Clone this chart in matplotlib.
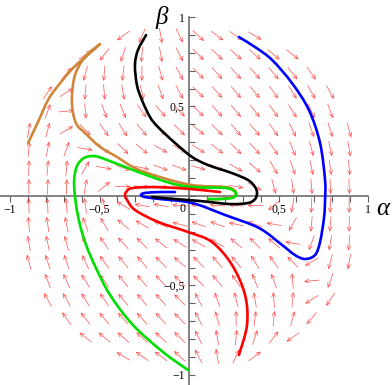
import matplotlib
matplotlib.use("Agg")
import matplotlib.pyplot as plt
from matplotlib.path import Path
from matplotlib.patches import PathPatch
import numpy as np

# ---------------- data ----------------
# direction field: grid values -1 + 2k/19 (k = 0..19); each row: (row index m, first column k, angles in degrees)
field_rows = [18, 17, 16, 15, 14, 13, 12, 11, 10, 9, 8, 7, 6, 5, 4, 3, 2, 1]
field_first = [6, 4, 3, 2, 2, 1, 1, 1, 1, 1, 1, 1, 1, 2, 2, 3, 4, 6]
field_angles = [
    [-143, -115, -80, -63, -43, -37, -35, -31],
    [35, -128, -108, -95, -80, -63, -45, -43, -42, -42, -40, -38],
    [50, -105, -95, -97, -90, -75, -62, -45, -48, -48, -48, -50, -52, -55],
    [56, 33, -95, -85, -80, -75, -70, -62, -45, -48, -50, -50, -55, -58, -60, -60],
    [70, 5, -85, -70, -68, -55, -50, -45, -45, -48, -50, -52, -55, -58, -65, -70],
    [80, 75, 30, -45, -55, -58, -50, -48, -45, -40, -45, -50, -50, -55, -65, -70, -72, -75],
    [85, 80, 70, -10, -40, -45, -40, -30, -30, -32, -38, -45, -48, -55, -68, -75, -78, -80],
    [88, 85, 85, 60, -10, -20, -12, -20, -20, -15, -25, -30, -40, -60, -70, -78, -82, -85],
    [90, 88, 88, 80, 40, 0, -5, -5, -5, -5, -10, -10, -30, -75, -82, -85, -88, -88],
    [92, 92, 95, 98, 105, 150, 170, 170, 175, 175, 175, 175, 180, 220, 260, 268, 268, 270],
    [95, 98, 102, 110, 120, 140, 150, 155, 165, 160, 160, 168, 160, 170, 240, 265, 265, 268],
    [100, 102, 105, 112, 125, 132, 135, 142, 148, 150, 150, 140, 135, 140, 170, 250, 260, 265],
    [105, 108, 110, 115, 125, 130, 130, 135, 140, 135, 132, 130, 122, 125, 135, 210, 255, 260],
    [110, 115, 122, 125, 128, 130, 132, 135, 135, 130, 125, 112, 110, 95, 185, 250],
    [120, 120, 122, 125, 130, 130, 132, 135, 118, 110, 105, 100, 95, 85, 213, 236],
    [125, 128, 130, 132, 132, 132, 135, 118, 105, 90, 83, 85, 75, 230],
    [142, 140, 138, 138, 137, 135, 117, 100, 85, 72, 52, 215],
    [149, 145, 143, 137, 117, 100, 65, 37],
]

blue_a = [0.279, 0.369, 0.464, 0.575, 0.670, 0.732, 0.760, 0.760, 0.754, 0.732, 0.704, 0.648,
          0.592, 0.520, 0.391, 0.201, 0.017, -0.162, -0.246, -0.268, -0.246, -0.162, -0.078]
blue_b = [0.888, 0.832, 0.760, 0.631, 0.480, 0.296, 0.089, -0.022, -0.123, -0.257, -0.330, -0.352,
          -0.330, -0.274, -0.179, -0.106, -0.039, -0.017, -0.006, 0.006, 0.017, 0.022, 0.022]

red_a = [0.279, 0.324, 0.313, 0.240, 0.128, -0.006, -0.173, -0.302, -0.346, -0.358, -0.341,
         -0.313, -0.218, -0.078, 0.061, 0.173]
red_b = [-0.888, -0.721, -0.553, -0.385, -0.257, -0.201, -0.145, -0.078, -0.022, 0.006, 0.034,
         0.045, 0.050, 0.045, 0.034, 0.022]

green_a = [-0.006, -0.145, -0.313, -0.441, -0.520, -0.575, -0.609, -0.631, -0.642, -0.637, -0.620,
           -0.587, -0.542, -0.486, -0.313, -0.123, 0.017, 0.201, 0.251, 0.263, 0.240, 0.173, 0.106]
green_b = [-0.972, -0.872, -0.721, -0.553, -0.402, -0.274, -0.162, -0.050, 0.061, 0.128, 0.179,
           0.212, 0.223, 0.212, 0.145, 0.078, 0.050, 0.045, 0.028, 0.006, -0.011, -0.017, -0.017]

orange_a = [-0.899, -0.844, -0.788, -0.737, -0.648, -0.553, -0.497, -0.581, -0.637, -0.654, -0.648,
            -0.626, -0.581, -0.497, -0.402, -0.302, -0.162, 0.017, 0.201, 0.251, 0.263, 0.240, 0.173, 0.106]
orange_b = [0.296, 0.413, 0.536, 0.609, 0.715, 0.799, 0.849, 0.777, 0.676, 0.553, 0.464,
            0.397, 0.352, 0.274, 0.218, 0.156, 0.106, 0.061, 0.050, 0.034, 0.011, -0.006, -0.017, -0.017]

black_a = [-0.240, -0.285, -0.302, -0.291, -0.263, -0.218, -0.173, -0.078, 0.017, 0.106, 0.240,
           0.330, 0.369, 0.380, 0.369, 0.330, 0.229, 0.061, -0.078, -0.207]
black_b = [0.899, 0.816, 0.732, 0.620, 0.536, 0.441, 0.385, 0.296, 0.218, 0.173, 0.128,
           0.089, 0.050, 0.017, -0.017, -0.039, -0.045, -0.028, -0.017, -0.006]

xtick_vals = [-1, -0.5, 0.5, 1]
xtick_text = ["\u22121", "\u22120,5", "0,5", "1"]
ytick_vals = [-1, -0.5, 0.5, 1]
ytick_text = ["\u22121", "\u22120,5", "0,5", "1"]

# ---------------- figure ----------------
fig = plt.figure(figsize=(3.92, 3.85), dpi=100)
ax = fig.add_axes([0, 0, 1, 1])
ax.set_xlim(-1.056, 1.134)
ax.set_ylim(-1.056, 1.095)

# direction field
grid = [-1 + 2 * k / 19 for k in range(20)]
L = 0.085
for m, k0, angs in zip(field_rows, field_first, field_angles):
    y = grid[m]
    for i, a in enumerate(angs):
        x = grid[k0 + i]
        dx = np.cos(np.radians(a)) * L / 2
        dy = np.sin(np.radians(a)) * L / 2
        ax.annotate("", xy=(x + dx, y + dy), xytext=(x - dx, y - dy),
                    arrowprops=dict(arrowstyle="->,head_length=0.28,head_width=0.13",
                                    color="#ff3535", lw=0.55, alpha=0.8,
                                    shrinkA=0, shrinkB=0), zorder=2)


def smooth_curve(xs, ys, color, z):
    """Draw a smooth (Catmull-Rom as cubic Bezier) curve through the read points."""
    p = np.column_stack([xs, ys])
    n = len(p)
    verts = [tuple(p[0])]
    codes = [Path.MOVETO]
    for i in range(n - 1):
        p0 = p[i - 1] if i > 0 else p[i]
        p1, p2 = p[i], p[i + 1]
        p3 = p[i + 2] if i + 2 < n else p[i + 1]
        c1 = p1 + (p2 - p0) / 6.0
        c2 = p2 - (p3 - p1) / 6.0
        verts += [tuple(c1), tuple(c2), tuple(p2)]
        codes += [Path.CURVE4] * 3
    patch = PathPatch(Path(verts, codes), facecolor="none", edgecolor=color,
                      lw=1.9, zorder=z, capstyle="round", joinstyle="round")
    ax.add_patch(patch)


smooth_curve(orange_a, orange_b, "#d0873a", 4)
smooth_curve(green_a, green_b, "#00e000", 4)
smooth_curve(red_a, red_b, "#ff0000", 5)
smooth_curve(blue_a, blue_b, "#0000ff", 5)
smooth_curve(black_a, black_b, "#000000", 6)

# axes through origin
for s in ("top", "right"):
    ax.spines[s].set_visible(False)
for s in ("left", "bottom"):
    ax.spines[s].set_position(("data", 0))
    ax.spines[s].set_color("#606060")
    ax.spines[s].set_linewidth(1.1)
    ax.spines[s].set_zorder(3)
ax.spines["bottom"].set_bounds(-1.056, 1.0)
ax.spines["left"].set_bounds(-1.056, 1.0)

minor = np.round(np.arange(-1.0, 1.001, 0.1), 2)
ax.set_xticks(minor, minor=True)
ax.set_yticks(minor, minor=True)
ax.set_xticks(xtick_vals)
ax.set_yticks(ytick_vals)
ax.set_xticklabels(xtick_text, family="Liberation Serif", fontsize=8.5)
ax.set_yticklabels(ytick_text, family="Liberation Serif", fontsize=8.5)
ax.tick_params(axis="x", which="both", direction="out", length=4, width=0.8,
               color="#606060", pad=1.5)
ax.tick_params(axis="y", which="both", direction="in", length=4, width=0.8,
               color="#606060", pad=3)

ax.text(-0.035, -0.07, "0", family="Liberation Serif", fontsize=8.5, ha="center", va="center")
ax.text(-0.155, 1.0, "\u03b2", family="Liberation Serif", style="italic", fontsize=18,
        ha="center", va="center")
ax.text(1.085, -0.07, "\u03b1", family="Liberation Serif", style="italic", fontsize=18,
        ha="center", va="center")

fig.savefig("out.png", dpi=100)
